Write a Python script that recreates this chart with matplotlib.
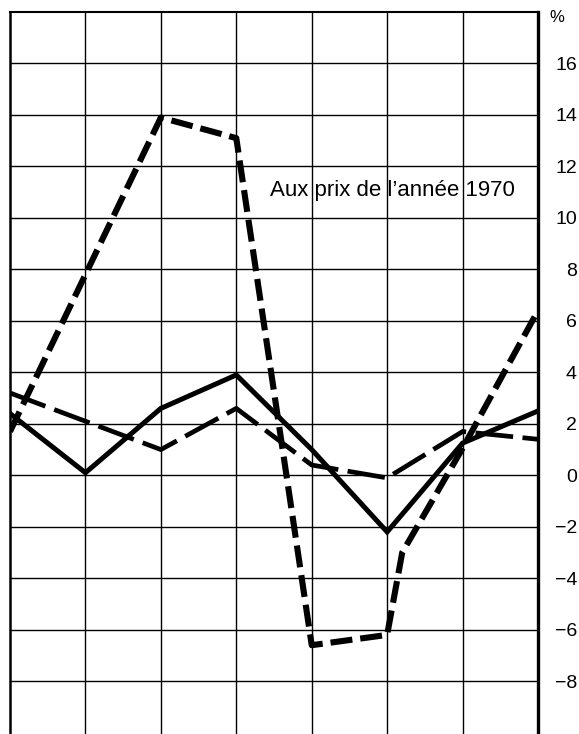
#!/usr/bin/env python3
"""Annual change (%) at 1970 prices -- three series on a plain grid."""
import matplotlib.pyplot as plt

# Data (x = year index, y = % change).
years = [0, 1, 2, 3, 4, 5, 6, 7]
solid_values = [2.4, 0.1, 2.6, 3.9, 1.0, -2.2, 1.25, 2.5]
medium_dash_values = [3.2, 2.1, 1.0, 2.6, 0.4, -0.1, 1.7, 1.4]
heavy_years = [0, 1, 2, 3, 4, 5, 5.2, 6, 7]
heavy_dash_values = [1.7, 7.8, 13.9, 13.1, -6.6, -6.2, -3.0, 1.05, 6.4]

y_ticks = [16, 14, 12, 10, 8, 6, 4, 2, 0, -2, -4, -6, -8]
annotation = "Aux prix de l\u2019ann\u00e9e 1970"

W, H = 579, 734


def main() -> None:
    plt.rcParams["font.family"] = ["Liberation Sans", "DejaVu Sans"]
    fig = plt.figure(figsize=(W / 100, H / 100), dpi=100)
    ax = fig.add_axes([10 / W, 0, 528 / W, 1 - 12 / H])

    ax.set_xlim(0, 7)
    ax.set_ylim(-10.05, 18)

    # grid
    for x in years[1:-1]:
        ax.axvline(x, color="black", linewidth=1.0, zorder=1)
    for y in y_ticks:
        ax.axhline(y, color="black", linewidth=1.0, zorder=1)

    ax.plot(years, solid_values, color="black", linewidth=3.6,
            solid_joinstyle="miter", zorder=3)
    ax.plot(years, medium_dash_values, color="black", linewidth=3.4,
            dashes=[8, 2.0], dash_capstyle="butt", zorder=3)
    ax.plot(heavy_years, heavy_dash_values, color="black", linewidth=4.4,
            dashes=[3.6, 1.3], dash_capstyle="butt", zorder=3)

    ax.text(3.45, 11.05, annotation, fontsize=16, va="center", ha="left",
            zorder=4)

    # frame: no bottom, heavier right edge
    ax.spines["bottom"].set_visible(False)
    ax.spines["left"].set_linewidth(1.8)
    ax.spines["top"].set_linewidth(1.5)
    ax.spines["right"].set_linewidth(2.4)

    ax.set_xticks([])
    ax.yaxis.tick_right()
    ax.set_yticks(y_ticks)
    ax.set_yticklabels([f"{v}".replace("-", "\u2212") for v in y_ticks],
                       fontsize=14, ha="right")
    ax.tick_params(axis="y", length=0, pad=28)

    ax.text(1.036, 17.8, "%", transform=ax.get_yaxis_transform(),
            fontsize=12, ha="center", va="center")

    fig.savefig("out.png", dpi=100)


if __name__ == "__main__":
    main()
